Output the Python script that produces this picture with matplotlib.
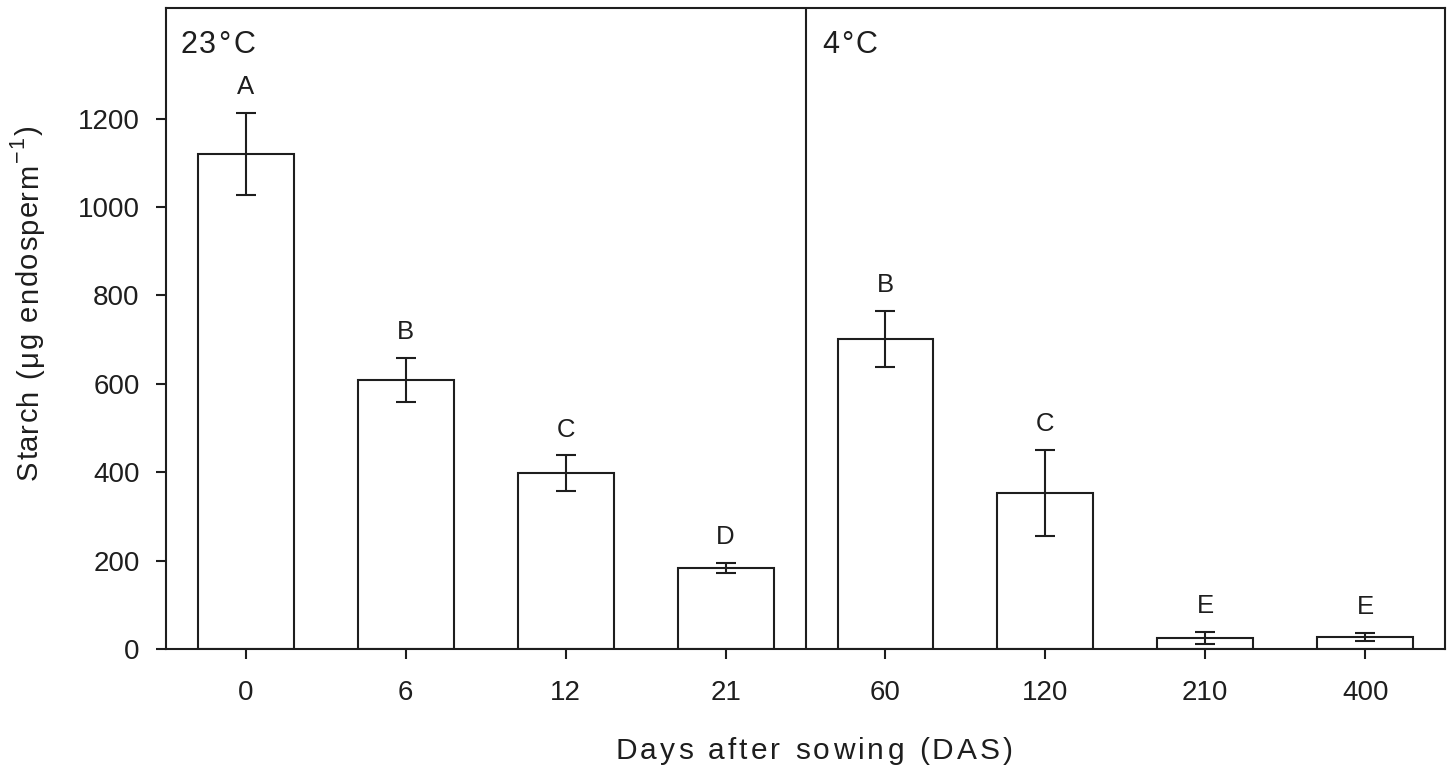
import matplotlib
matplotlib.use("Agg")
import matplotlib.pyplot as plt
from matplotlib.transforms import IdentityTransform
import numpy as np

plt.rcParams['font.family'] = ['Liberation Sans', 'DejaVu Sans']

categories = ["0", "6", "12", "21", "60", "120", "210", "400"]
starch = [1120, 609, 398, 183, 702, 353, 25, 27]
errors = [93, 50, 40, 11, 63, 98, 13, 9]
letters = ["A", "B", "C", "D", "B", "C", "E", "E"]
panel_labels = ["23°C", "4°C"]
xlabel_text = "Days after sowing (DAS)"
ylabel_parts = ["Starch (μg endosperm", "−1", ")"]

INK = '#1e1e1e'
W, H = 1448, 769
fig = plt.figure(figsize=(W / 100, H / 100), dpi=100)
ax = fig.add_axes([0.1146, 0.156, 0.998 - 0.1146, 0.9896 - 0.156])

x = np.arange(len(categories))
lw = 1.5
ax.bar(x, starch, width=0.6, color='white', edgecolor=INK, linewidth=lw, zorder=2)
ax.errorbar(x, starch, yerr=errors, fmt='none', ecolor=INK, elinewidth=lw,
            capsize=7.5, capthick=lw, zorder=3)
for xi, v, e, lab in zip(x, starch, errors, letters):
    ax.annotate(lab, (xi, v + e), xytext=(0, 10), textcoords='offset points',
                ha='center', va='bottom', fontsize=18.5, color=INK)

ax.axvline(3.5, color=INK, linewidth=lw, zorder=1)

ax.set_xlim(-0.5, 7.5)
ax.set_ylim(0, 1450)
ax.set_xticks(x)
ax.set_xticklabels(categories)
ax.set_yticks([0, 200, 400, 600, 800, 1000, 1200])
ax.tick_params(axis='both', direction='out', length=7, width=lw, labelsize=20,
               colors=INK)
ax.tick_params(axis='x', pad=15)
ax.tick_params(axis='y', pad=12)
for s in ax.spines.values():
    s.set_linewidth(lw)
    s.set_color(INK)

# ---- letter-spaced text helper (the reference uses wide tracking) ----
renderer = fig.canvas.get_renderer()
_cache = {}


def advance(s, size):
    key = (s, size)
    if key not in _cache:
        t1 = fig.text(0, 0, "|" + s + "|", fontsize=size)
        t2 = fig.text(0, 0, "||", fontsize=size)
        w = t1.get_window_extent(renderer).width - t2.get_window_extent(renderer).width
        t1.remove()
        t2.remove()
        _cache[key] = w
    return _cache[key]


def tracked(segments, start, total_len, vertical=False):
    """segments: list of (text, fontsize, raise_px); start in display px."""
    chars = []
    cum = 0.0
    for seg, size, rise in segments:
        for i, ch in enumerate(seg):
            chars.append((ch, size, rise, cum + advance(seg[:i], size)))
        cum += advance(seg, size)
    n = len(chars)
    last_ch, last_size = chars[-1][0], chars[-1][1]
    natural = chars[-1][3] + advance(last_ch, last_size)
    track = (total_len - natural) / max(n - 1, 1)
    for k, (ch, size, rise, pos) in enumerate(chars):
        if ch == " ":
            continue
        p = pos + track * k
        if vertical:
            fig.text(start[0] - rise, start[1] + p, ch, fontsize=size, color=INK,
                     rotation=90, rotation_mode='anchor', ha='left', va='baseline',
                     transform=IdentityTransform())
        else:
            fig.text(start[0] + p, start[1] + rise, ch, fontsize=size, color=INK,
                     ha='left', va='baseline', transform=IdentityTransform())


# panel labels
tracked([(panel_labels[0], 22, 0)], (180, H - 53), 75)
tracked([(panel_labels[1], 22, 0)], (822, H - 53), 55)
# x axis label
tracked([(xlabel_text, 21.5, 0)], (615, H - 759), 398)
# y axis label (rotated)
tracked([(ylabel_parts[0], 21, 0), (ylabel_parts[1], 15.5, 14), (ylabel_parts[2], 21, 0)],
        (37, H - 480), 355, vertical=True)

fig.savefig("out.png", dpi=100)
